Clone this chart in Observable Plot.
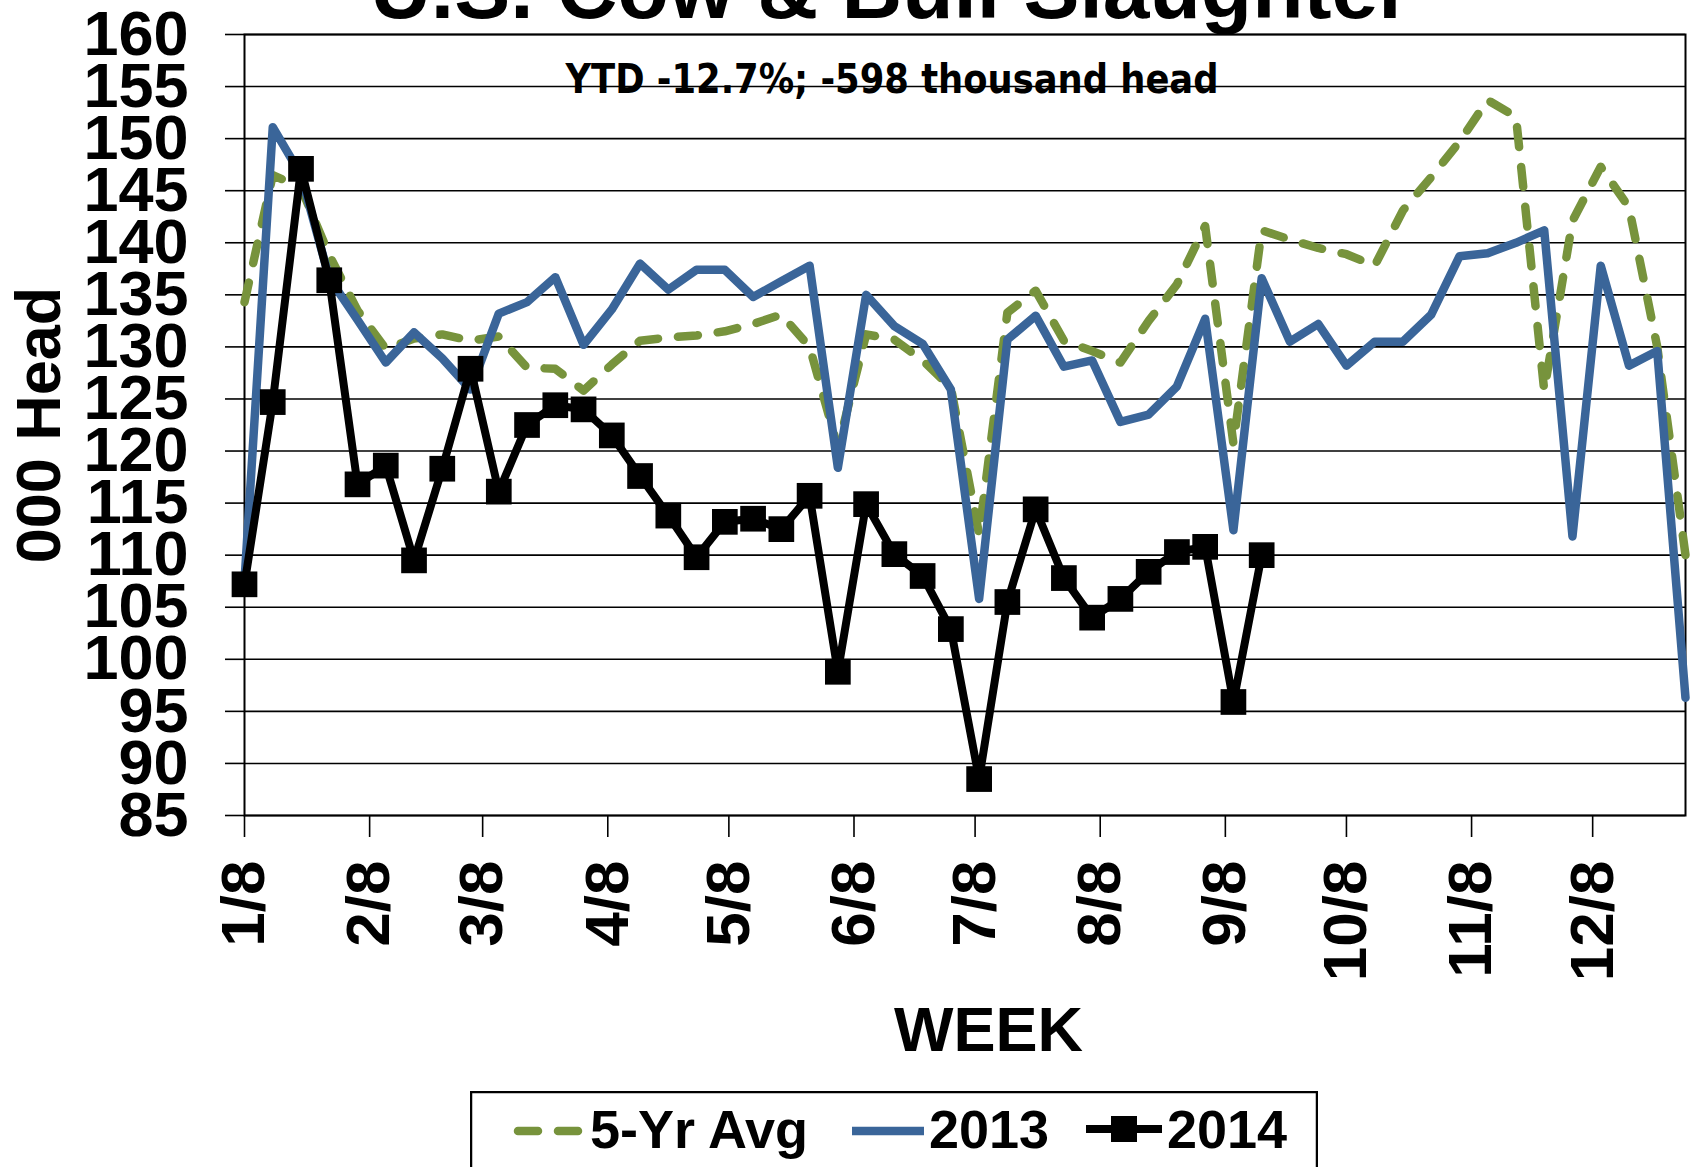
<!DOCTYPE html>
<html><head><meta charset="utf-8">
<script src="https://cdn.jsdelivr.net/npm/d3@7"></script>
<script src="https://cdn.jsdelivr.net/npm/@observablehq/plot@0.6"></script>
<style>
html,body{margin:0;padding:0;background:#fff;overflow:hidden;width:1691px;height:1167px;}
#chart{position:absolute;left:0;top:0;}
#legend{position:absolute;left:470px;top:1091px;}
</style></head><body>
<div id="chart"></div>
<div id="legend"></div>
<script>
// ---- data (thousand head, weekly, first week = 1/8) ----
const seriesNames = ["5-Yr Avg", "2013", "2014"];
const avg5 = [134.3,146.5,145.3,138.8,133.5,129.8,130.8,131.2,130.6,131.0,
  128.0,127.9,125.8,128.3,130.6,130.9,131.1,131.5,132.2,133.1,
  130.0,120.3,131.2,130.7,128.7,126.1,112.0,133.3,135.4,130.6,
  129.6,128.5,132.5,136.0,141.6,120.7,141.2,140.3,139.5,138.9,
  137.8,143.1,146.3,149.7,153.7,152.1,125.8,142.1,147.3,143.4,
  130.0,110.0];
const y2013 = [107.5,151.1,146.5,136.6,132.6,128.5,131.4,128.9,125.9,133.2,
  134.3,136.7,130.2,133.6,138.0,135.5,137.4,137.4,134.8,136.3,
  137.8,118.4,135.0,132.0,130.3,125.9,105.8,130.7,133.0,128.1,
  128.7,122.8,123.5,126.2,132.7,112.4,136.6,130.5,132.2,128.2,
  130.5,130.5,133.1,138.7,139.0,140.0,141.2,111.8,137.8,128.2,
  129.6,96.3];
const y2014 = [107.2,124.7,147.1,136.4,116.8,118.6,109.5,118.3,127.9,116.1,
  122.5,124.4,124.0,121.5,117.6,113.8,109.8,113.2,113.5,112.5,
  115.7,98.8,114.9,110.1,108.0,102.9,88.5,105.5,114.4,107.8,
  104.0,105.8,108.4,110.3,110.8,95.9,110.0];
const yTicks = [85,90,95,100,105,110,115,120,125,130,135,140,145,150,155,160];
const xTickLabels = ["1/8","2/8","3/8","4/8","5/8","6/8","7/8","8/8","9/8","10/8","11/8","12/8"];
const titleText = "U.S. Cow & Bull Slaughter";
const noteText = "YTD -12.7%; -598 thousand head";
const yLabel = "000 Head";
const xLabel = "WEEK";

const colors = {avg: "#77933C", y13: "#3A6599", y14: "#000000"};

// ---- build tables ----
const start = new Date(Date.UTC(2013, 0, 8));
const weekDate = i => d3.utcDay.offset(start, 7 * i);
const t5 = avg5.map((v, i) => ({date: weekDate(i), value: v}));
const t13 = y2013.map((v, i) => ({date: weekDate(i), value: v}));
const t14 = y2014.map((v, i) => ({date: weekDate(i), value: v}));
const xTicks = xTickLabels.map((_, m) => new Date(Date.UTC(2013, m, 8)));
const xDomain = [start, new Date(Date.UTC(2013, 11, 31))];

const font = "'Liberation Sans', Arial, sans-serif";

const plot = Plot.plot({
  width: 1691,
  height: 1167,
  marginLeft: 244,
  marginRight: 6,
  marginTop: 34,
  marginBottom: 352,
  style: {fontFamily: font, fontWeight: "bold", fontSize: "62px", background: "#fff", color: "#000"},
  x: {type: "utc", domain: xDomain},
  y: {domain: [85, 160]},
  marks: [
    Plot.gridY(yTicks, {stroke: "#000", strokeOpacity: 1, strokeWidth: 1.6}),
    Plot.axisY(yTicks, {tickSize: 19, tickPadding: 37, fontSize: 63, fontWeight: "bold",
      label: null, stroke: "#000", strokeWidth: 1.6, tickFormat: d => String(d)}),
    Plot.axisX(xTicks, {tickFormat: d => xTickLabels[d.getUTCMonth()], tickRotate: -90,
      tickSize: 22, tickPadding: 23, lineAnchor: "middle", fontSize: 62, fontWeight: "bold",
      label: null, stroke: "#000", strokeWidth: 1.6}),
    Plot.frame({stroke: "#000", strokeWidth: 2}),
    Plot.lineY(t5, {x: "date", y: "value", stroke: colors.avg, strokeWidth: 8.5,
      strokeDasharray: "20 20", strokeLinecap: "round"}),
    Plot.lineY(t13, {x: "date", y: "value", stroke: colors.y13, strokeWidth: 8.5}),
    Plot.lineY(t14, {x: "date", y: "value", stroke: colors.y14, strokeWidth: 8}),
    Plot.dot(t14, {x: "date", y: "value", symbol: "square", r: 14.5, fill: colors.y14, stroke: "none"}),
    Plot.text([noteText], {frameAnchor: "top", dx: -73, dy: 29, fontSize: 41,
      fontFamily: "'Liberation Sans Narrow', 'DejaVu Sans Condensed', 'Arial Narrow', sans-serif",
      fontWeight: "bold", fill: "#000", className: "ytd-note"}),
    Plot.text([titleText], {frameAnchor: "top", dx: -74.5, dy: -76, fontSize: 84, fontWeight: "bold", fill: "#000"}),
    Plot.text([xLabel], {frameAnchor: "bottom", dx: 23.5, dy: 235, fontSize: 63, fontWeight: "bold", fill: "#000"}),
    Plot.text([yLabel], {frameAnchor: "left", textAnchor: "middle", dx: -205, rotate: -90, fontSize: 63, fontWeight: "bold", fill: "#000"})
  ]
});
document.getElementById("chart").appendChild(plot);
// fit note width like the reference
d3.select(plot).selectAll(".ytd-note text").attr("textLength", 653).attr("lengthAdjust", "spacingAndGlyphs");

// ---- legend (below the plot) ----
const lw = 848, lh = 120;
const lg = d3.select("#legend").append("svg").attr("width", lw).attr("height", lh)
  .style("font-family", font).style("font-weight", "bold").style("font-size", "54px");
lg.append("rect").attr("x", 1).attr("y", 1).attr("width", lw - 2).attr("height", lh).attr("fill", "#fff")
  .attr("stroke", "#000").attr("stroke-width", 2.5);
const ly = 40;
lg.append("line").attr("x1", 48).attr("x2", 108).attr("y1", ly).attr("y2", ly)
  .attr("stroke", colors.avg).attr("stroke-width", 8.5).attr("stroke-dasharray", "20 20").attr("stroke-linecap", "round");
lg.append("text").attr("x", 120).attr("y", 57).text(seriesNames[0]);
lg.append("line").attr("x1", 382).attr("x2", 454).attr("y1", ly).attr("y2", ly)
  .attr("stroke", colors.y13).attr("stroke-width", 8.5);
lg.append("text").attr("x", 459).attr("y", 57).text(seriesNames[1]);
lg.append("line").attr("x1", 616).attr("x2", 692).attr("y1", ly - 2).attr("y2", ly - 2)
  .attr("stroke", colors.y14).attr("stroke-width", 8);
lg.append("rect").attr("x", 654 - 13).attr("y", ly - 2 - 13).attr("width", 26).attr("height", 26).attr("fill", colors.y14);
lg.append("text").attr("x", 697).attr("y", 57).text(seriesNames[2]);
</script>
</body></html>
